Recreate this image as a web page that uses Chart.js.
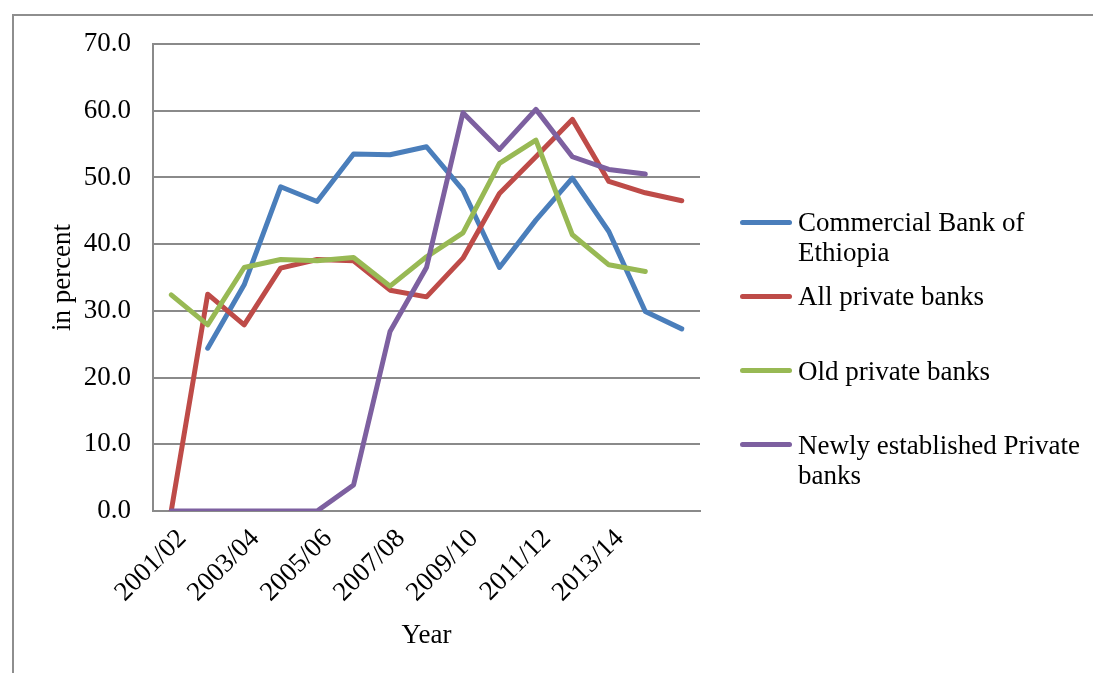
<!DOCTYPE html>
<html>
<head>
<meta charset="utf-8">
<script src="https://cdn.jsdelivr.net/npm/chart.js@4"></script>
<style>
  html, body { margin: 0; padding: 0; background: #fff; }
  #wrap { position: relative; width: 1093px; height: 673px; overflow: hidden; }
  #frame { position: absolute; left: 12px; top: 14px; right: -10px; bottom: -10px;
           border-left: 2px solid #8e8e8e; border-top: 2px solid #8e8e8e; }
  #chart { position: absolute; left: 0; top: 0; }
  #legend { position: absolute; left: 740px; top: 207px; width: 350px;
            font-family: "Liberation Serif", "Times New Roman", serif; font-size: 27px; line-height: 30px; color: #000; }
  #legend .item { position: relative; height: 74.3px; padding-left: 58px; }
  #legend .swatch { position: absolute; left: 0; top: 12.5px; width: 52px; height: 5px; border-radius: 3px; }
  #legend .text { width: 290px; }
</style>
</head>
<body>
<div id="wrap">
  <div id="frame"></div>
  <canvas id="chart" width="1093" height="673"></canvas>
  <div id="legend"></div>
</div>
<script>
  var years = ["2001/02", "2002/03", "2003/04", "2004/05", "2005/06", "2006/07", "2007/08", "2008/09",
               "2009/10", "2010/11", "2011/12", "2012/13", "2013/14", "2014/15", ""];

  var cbe = [null, 24.4, 33.9, 48.6, 46.4, 53.5, 53.4, 54.6, 48.1, 36.5, 43.6, 49.9, 41.9, 29.9, 27.3];
  var allPrivate = [0, 32.5, 27.9, 36.4, 37.7, 37.5, 33.1, 32.1, 37.9, 47.6, 53.1, 58.7, 49.4, 47.7, 46.5];
  var oldPrivate = [32.4, 27.9, 36.5, 37.7, 37.5, 38.0, 33.7, 38.1, 41.7, 52.1, 55.6, 41.4, 36.9, 35.9, null];
  var newPrivate = [0, 0, 0, 0, 0, 3.9, 26.9, 36.5, 59.7, 54.2, 60.2, 53.1, 51.2, 50.5, null];

  var seriesNames = ["Commercial Bank of Ethiopia", "All private banks", "Old private banks", "Newly established Private banks"];
  var seriesColors = ["#4a7ebb", "#be4b48", "#98b954", "#7d60a0"];

  var FONT = "'Liberation Serif', 'Times New Roman', serif";
  var GRID = "#8a8a8a";

  function lineSet(i, values) {
    return {
      label: seriesNames[i],
      data: values,
      borderColor: seriesColors[i],
      backgroundColor: seriesColors[i],
      borderWidth: 5,
      pointRadius: 0,
      tension: 0,
      borderCapStyle: "round",
      borderJoinStyle: "round",
      order: 3 - i
    };
  }

  var chart = new Chart(document.getElementById("chart"), {
    type: "line",
    data: {
      labels: years,
      datasets: [lineSet(0, cbe), lineSet(1, allPrivate), lineSet(2, oldPrivate), lineSet(3, newPrivate)]
    },
    options: {
      responsive: false,
      animation: false,
      events: [],
      layout: { padding: { left: 0, top: 44, right: 393, bottom: 0 } },
      plugins: { legend: { display: false }, tooltip: { enabled: false } },
      scales: {
        x: {
          type: "category",
          offset: true,
          grid: { display: false, drawTicks: false },
          border: { display: true, color: GRID, width: 2 },
          ticks: {
            autoSkip: false, maxRotation: 45, minRotation: 45, padding: 12, labelOffset: 11,
            color: "#000", font: { family: FONT, size: 27 },
            callback: function (v, i) { return i % 2 === 0 ? this.getLabelForValue(v) : ""; }
          },
          title: { display: true, text: "Year", color: "#000", font: { family: FONT, size: 27 }, padding: { top: 0, bottom: 21 } },
          afterFit: function (s) { s.height = 162; }
        },
        y: {
          min: 0, max: 70,
          grid: { color: GRID, lineWidth: 2, drawTicks: false },
          border: { display: true, color: GRID, width: 2 },
          ticks: {
            stepSize: 10, padding: 22, color: "#000", font: { family: FONT, size: 27 },
            callback: function (v) { return v.toFixed(1); }
          },
          title: { display: true, text: "in percent", color: "#000", font: { family: FONT, size: 27 }, padding: { top: 47, bottom: 0 } },
          afterFit: function (s) { s.width = 153; }
        }
      }
    }
  });

  // legend: same order as the source, long names wrap onto two lines
  var legend = document.getElementById("legend");
  chart.data.datasets.forEach(function (ds) {
    var item = document.createElement("div");
    item.className = "item";
    item.innerHTML = '<span class="swatch" style="background:' + ds.borderColor + '"></span><div class="text">' + ds.label + "</div>";
    legend.appendChild(item);
  });
</script>
</body>
</html>
